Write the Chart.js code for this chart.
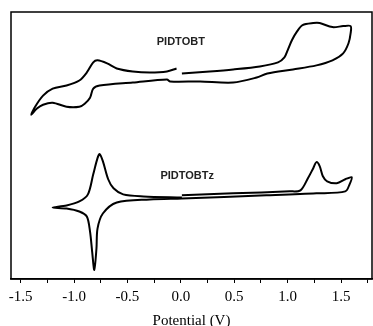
<!DOCTYPE html>
<html>
<head>
<meta charset="utf-8">
<script src="https://cdn.jsdelivr.net/npm/chart.js@4"></script>
<style>
  html, body { margin: 0; padding: 0; background: #fff; }
  #wrap { width: 373px; height: 326px; }
</style>
</head>
<body>
<div id="wrap"><canvas id="cv"></canvas></div>
<script>
// PIDTOBT loop (potential in V, current in arbitrary units)
const tobtV = [0.01, 0.27, 0.49, 0.74, 0.91, 0.97, 1.00, 1.04, 1.09, 1.14, 1.24, 1.30, 1.42, 1.52, 1.59,
  1.59, 1.57, 1.52, 1.42, 1.27, 1.05, 0.81, 0.71, 0.49, 0.18, -0.10, -0.13, -0.45, -0.76, -0.82, -0.85, -0.90, -0.95, -1.07, -1.20, -1.29, -1.35, -1.40,
  -1.37, -1.29, -1.20, -1.07, -0.95, -0.88, -0.82, -0.78, -0.69, -0.60, -0.45, -0.29, -0.13, -0.04];
const tobtI = [204, 206, 208, 211, 215, 220, 227, 237, 246, 252, 254, 254, 250, 251, 251,
  244, 234, 224, 217, 212, 208, 204, 200, 195, 196, 196, 198, 195, 192, 189, 180, 174, 171, 171, 175, 173, 169, 163,
  170, 182, 189, 192, 197, 205, 215, 217, 214, 209, 206, 205, 206, 209];

// PIDTOBTz loop
const tobtzV = [0.01, 0.49, 1.02, 1.12, 1.19, 1.24, 1.27, 1.30, 1.33, 1.37, 1.46, 1.54, 1.60,
  1.58, 1.54, 1.27, 0.80, 0.01, -0.29, -0.60, -0.73, -0.78, -0.79, -0.81, -0.83, -0.85, -0.88, -0.95, -1.07, -1.20,
  -1.07, -0.95, -0.87, -0.82, -0.78, -0.76, -0.73, -0.68, -0.63, -0.54, -0.35, 0.01];
const tobtzI = [83, 85, 87, 88, 100, 110, 116, 112, 102, 97, 95, 99, 101,
  94, 87, 85, 83, 80, 79, 76, 65, 50, 30, 9, 27, 47, 62, 67, 70, 71,
  73, 77, 84, 104, 120, 124, 117, 99, 90, 84, 82, 81];

const tickValues = [-1.5, -1.25, -1.0, -0.75, -0.5, -0.25, 0.0, 0.25, 0.5, 0.75, 1.0, 1.25, 1.5, 1.75];
const tickLabels = ['-1.5', '-1.0', '-0.5', '0.0', '0.5', '1.0', '1.5'];

function pts(xs, ys) {
  return xs.map((x, i) => ({ x: x, y: ys[i] }));
}

// frame + curve labels
const boxPlugin = {
  id: 'box',
  afterDraw(chart) {
    const a = chart.chartArea;
    const ctx = chart.ctx;
    const sx = chart.scales.x, sy = chart.scales.y;
    ctx.save();
    ctx.strokeStyle = '#000';
    ctx.lineWidth = 1.5;
    ctx.strokeRect(a.left, a.top, a.right - a.left, a.bottom - a.top);
    ctx.fillStyle = '#222';
    ctx.font = 'bold 11px "Liberation Sans", Arial, sans-serif';
    ctx.textAlign = 'center';
    ctx.textBaseline = 'middle';
    ctx.fillText('PIDTOBT', sx.getPixelForValue(0.0), sy.getPixelForValue(235));
    ctx.fillText('PIDTOBTz', sx.getPixelForValue(0.06), sy.getPixelForValue(102));
    ctx.restore();
  }
};

new Chart(document.getElementById('cv'), {
  type: 'scatter',
  data: {
    datasets: [
      { label: 'PIDTOBT', data: pts(tobtV, tobtI), showLine: true, borderColor: '#000', borderWidth: 2, pointRadius: 0, tension: 0.3, fill: false },
      { label: 'PIDTOBTz', data: pts(tobtzV, tobtzI), showLine: true, borderColor: '#000', borderWidth: 2, pointRadius: 0, tension: 0.3, fill: false }
    ]
  },
  options: {
    responsive: true,
    maintainAspectRatio: false,
    animation: false,
    layout: { padding: { left: 11, top: 12, right: 1, bottom: 0 } },
    plugins: { legend: { display: false }, tooltip: { enabled: false } },
    scales: {
      x: {
        type: 'linear',
        min: -1.59,
        max: 1.79,
        afterBuildTicks(axis) {
          axis.ticks = tickValues.map(v => ({ value: v }));
        },
        grid: { display: true, drawOnChartArea: false, drawTicks: true, tickLength: 4, color: '#000', lineWidth: 1 },
        border: { display: true, color: '#000', width: 1.5 },
        ticks: {
          autoSkip: false,
          maxRotation: 0,
          padding: 5,
          color: '#000',
          font: { family: '"Liberation Serif", "Times New Roman", serif', size: 15, lineHeight: 1.2 },
          callback(v) {
            const s = v.toFixed(1);
            return tickLabels.includes(s) && Math.abs(v * 2 - Math.round(v * 2)) < 1e-6 ? s : '';
          }
        },
        title: {
          display: true,
          text: 'Potential (V)',
          color: '#000',
          padding: { top: 2.5, bottom: -2.5 },
          font: { family: '"Liberation Serif", "Times New Roman", serif', size: 15, lineHeight: 1.0 }
        }
      },
      y: {
        display: false,
        min: 0,
        max: 265
      }
    }
  },
  plugins: [boxPlugin]
});
</script>
</body>
</html>
